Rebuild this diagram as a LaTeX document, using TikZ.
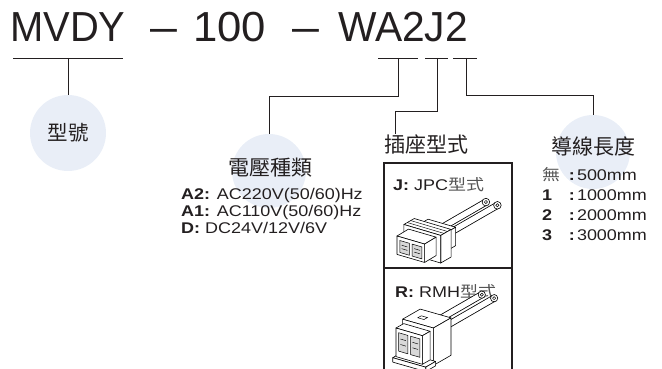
\documentclass[tikz,border=0pt]{standalone}
\usepackage{fontspec}
\setmainfont{Liberation Sans}
\newfontfamily\cjk{Noto Sans CJK TC}
\usepackage{graphicx}
\definecolor{ink}{HTML}{231F20}
\definecolor{bub}{HTML}{E9EEF7}
\definecolor{lgray}{HTML}{555555}
\definecolor{slotc}{HTML}{D8D8D8}
\newcommand\wide[1]{\scalebox{1.16}[1]{#1}}
\newcommand\tsc[2]{\scalebox{#1}[1]{#2}}
% oblique box: #1,#2 front-top-left; #3,#4 width vector; #5 height; #6,#7 depth vector
\newcommand{\cbox}[7]{%
  \filldraw[cfill] (#1,#2) -- ({#1+#3},{#2+#4}) -- ({#1+#3+#6},{#2+#4+#7}) -- ({#1+#6},{#2+#7}) -- cycle;
  \filldraw[cfill] ({#1+#3},{#2+#4}) -- ({#1+#3+#6},{#2+#4+#7}) -- ({#1+#3+#6},{#2+#4+#7+#5}) -- ({#1+#3},{#2+#4+#5}) -- cycle;
  \filldraw[cfill] (#1,#2) -- ({#1+#3},{#2+#4}) -- ({#1+#3},{#2+#4+#5}) -- (#1,{#2+#5}) -- cycle;
}
\newcommand{\wire}[4]{%
  \draw[line width=7pt, black, line cap=butt] (#1,#2) -- (#3,#4);
  \draw[line width=5.4pt, white, line cap=butt] (#1,#2) -- (#3,#4);
  \filldraw[fill=white, draw=black, line width=0.6pt] (#3,#4) circle (3.3);
  \filldraw[fill=white, draw=black, line width=0.5pt] (#3,#4) circle (1.4);
}
\tikzset{
  bubble/.style={circle, fill=bub, minimum size=74pt, inner sep=0pt},
  br/.style={draw=ink, line width=0.9pt},
  cell/.style={draw=ink, line width=1.2pt, minimum width=128pt, inner sep=0pt},
  cfill/.style={fill=white, draw=black, line width=0.6pt, line join=round},
  thin/.style={draw=black, line width=0.45pt},
  head/.style={font=\cjk\fontsize{21}{21}\selectfont, text=ink, inner sep=0pt},
  item/.style={anchor=base west, inner sep=0pt, text=ink, font=\fontsize{15.5}{18}\selectfont},
}
\begin{document}
\begin{tikzpicture}[x=1pt,y=-1pt]
\useasboundingbox (0,0) rectangle (662,369);
\clip (0,0) rectangle (662,369);

% title
\node[anchor=base west, inner sep=0pt, text=ink, font=\fontsize{42}{42}\selectfont] (title) at (10,42)
  {\makebox[140pt][l]{\tsc{0.95}{MVDY}}\makebox[43pt][l]{\tsc{1.15}{–}}\makebox[99pt][l]{\tsc{1.04}{100}}\makebox[46pt][l]{\tsc{1.15}{–}}\tsc{0.97}{WA2J2}};

% bubbles
\node[bubble, minimum size=76pt, font=\cjk\fontsize{20.5}{20.5}\selectfont, text=ink] (cType) at (68,133) {型號};
\node[bubble] (cVolt) at (269,171) {};
\node[bubble] (cLen) at (593,152) {};

% bracket anchors
\coordinate (b1a) at (13,58);  \coordinate (b1b) at (123,58); \coordinate (b1m) at (68,58);
\coordinate (b2a) at (378,58); \coordinate (b2b) at (418,58); \coordinate (b2m) at (398,58);
\coordinate (b3a) at (425,58); \coordinate (b3b) at (448,58); \coordinate (b3m) at (437,58);
\coordinate (b4a) at (453,58); \coordinate (b4b) at (477,58); \coordinate (b4m) at (466,58);

% headings
\node[head] (hVolt) at (270,168) {電壓種類};
\node[head] (hPlug) at (426.5,144) {插座型式};
\node[head] (hLen) at (593,146) {導線長度};

% brackets
\draw[br] (b1a) -- (b1b); \draw[br] (b1m) -- (cType.north);
\draw[br] (b2a) -- (b2b); \draw[br] (b2m) -- (398,96) -- (cVolt.north |- 0,96) -- (cVolt.north);
\draw[br] (b3a) -- (b3b); \draw[br] (b3m) -- (437,111) -- (395,111) -- (hPlug.north -| 395,0);
\draw[br] (b4a) -- (b4b); \draw[br] (b4m) -- (466,95) -- (cLen.north |- 0,95) -- (cLen.north);

% voltage list
\node[item] (v1) at (181,199) {\wide{\textbf{A2:} AC220V(50/60)Hz}};
\node[item] (v2) at (181,216) {\wide{\textbf{A1:} AC110V(50/60)Hz}};
\node[item] (v3) at (181,233) {\wide{\textbf{D:} DC24V/12V/6V}};

% length list
\node[item] (l0) at (542,180) {\wide{\makebox[21pt][l]{\cjk\color{lgray}無}\makebox[9pt][c]{\textbf{:}}500mm}};
\node[item] (l1) at (542,200) {\wide{\makebox[21pt][l]{\textbf{1}}\makebox[9pt][c]{\textbf{:}}1000mm}};
\node[item] (l2) at (542,220) {\wide{\makebox[21pt][l]{\textbf{2}}\makebox[9pt][c]{\textbf{:}}2000mm}};
\node[item] (l3) at (542,240) {\wide{\makebox[21pt][l]{\textbf{3}}\makebox[9pt][c]{\textbf{:}}3000mm}};

% plug cells
\node[cell, minimum height=105pt] (cellJ) at (448,215.5) {};
\node[cell, minimum height=112pt] (cellR) at (448,324) {};
\node[item] (jl) at (393,190) {\wide{\textbf{J:} JPC{\cjk\color{lgray}型式}}};
\node[item] (rl) at (395,297) {\wide{\textbf{R:} RMH{\cjk\color{lgray}型式}}};

% JPC connector
\begin{scope}[shift={(397,236)}, scale=1.15]
  \wire{34}{-4.5}{77.3}{-29.5}
  \wire{44}{-1.7}{87.3}{-26.7}
  \cbox{19}{-10}{24}{7}{16}{8}{-4.6}
  \cbox{6}{-10}{32}{9.5}{24}{9}{-5.2}
  % ridges on collar top
  \draw[thin] (9,-11.7) -- (41,-2.2) (12,-13.4) -- (44,-3.9);
  \cbox{0}{0}{24}{7}{16}{10}{-6}
  \filldraw[fill=slotc, draw=black, line width=0.5pt] (2.4,3.9) -- (10.8,6.35) -- (10.8,16.75) -- (2.4,14.3) -- cycle;
  \filldraw[fill=slotc, draw=black, line width=0.5pt] (13.2,7.05) -- (21.6,9.5) -- (21.6,19.9) -- (13.2,17.45) -- cycle;
  \draw[thin] (4,8) -- (9,9.5) (4,11) -- (9,12.5) (15,11) -- (20,12.5) (15,14) -- (20,15.5);
\end{scope}

% RMH connector
\begin{scope}[shift={(396,328)}, scale=1.1]
  \wire{30.4}{-2.8}{78}{-30.3}
  \wire{41.6}{0.4}{89.2}{-27.1}
  \cbox{6}{-8}{28}{8}{34}{16}{-9.2}
  \filldraw[fill=white, draw=black, line width=0.5pt] (19.8,-9.3) -- (25.4,-7.7) -- (28.6,-9.5) -- (23,-11.1) -- cycle;
  \cbox{-3}{27}{30}{8.6}{4}{9}{-5.2}
  \cbox{0}{0}{24}{7}{26}{7}{-4}
  \filldraw[fill=slotc, draw=black, line width=0.5pt] (2.4,4.3) -- (10.8,6.75) -- (10.8,23.5) -- (2.4,21) -- cycle;
  \filldraw[fill=slotc, draw=black, line width=0.5pt] (13.2,7.45) -- (21.6,9.9) -- (21.6,26.6) -- (13.2,24.2) -- cycle;
  \draw[thin] (4,10) -- (9,11.5) (4,15) -- (9,16.5) (15,13) -- (20,14.5) (15,18) -- (20,19.5);
\end{scope}
\end{tikzpicture}
\end{document}
